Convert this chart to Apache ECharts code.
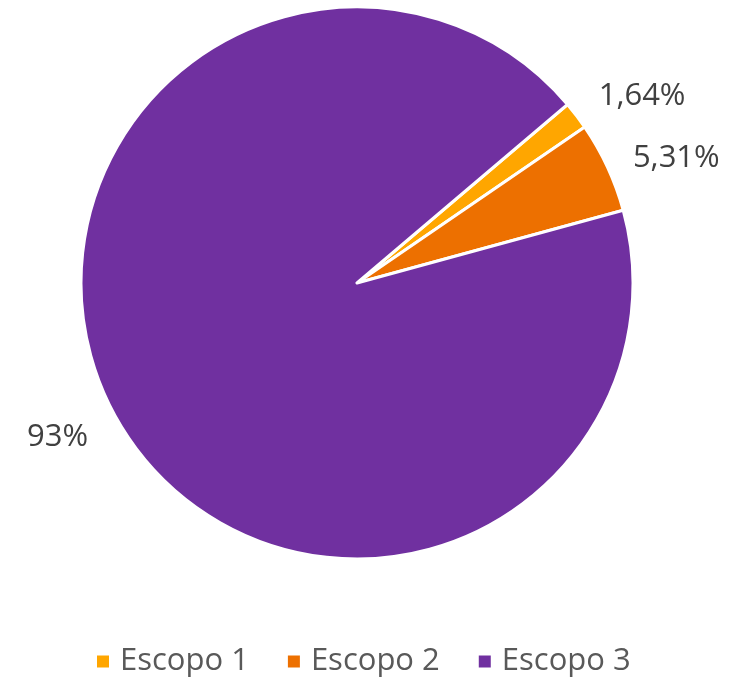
<!DOCTYPE html>
<html>
<head>
<meta charset="utf-8">
<script src="https://cdn.jsdelivr.net/npm/echarts@6/dist/echarts.min.js"></script>
<style>html,body{margin:0;padding:0;background:#fff;}#c{width:746px;height:682px;}</style>
</head>
<body>
<div id="c"></div>
<script>
const categories = ['Escopo 1', 'Escopo 2', 'Escopo 3'];
const values = [1.64, 5.31, 93.05];
const labelTexts = ['1,64%', '5,31%', '93%'];
const colors = ['#FFA600', '#ED7000', '#7030A0'];

const chart = echarts.init(document.getElementById('c'));
const txt = { fontFamily: 'Open Sans', fontSize: 31, color: '#404040' };
chart.setOption({
  animation: false,
  color: colors,
  legend: {
    data: categories,
    bottom: 0,
    left: 90,
    icon: 'rect',
    itemWidth: 14,
    itemHeight: 14,
    itemGap: 37,
    textStyle: { fontFamily: 'Open Sans', fontSize: 31, color: '#595959', padding: [0, 0, 0, 5] }
  },
  series: [{
    type: 'pie',
    center: [357, 283],
    radius: 276,
    startAngle: 40.3,
    clockwise: true,
    data: categories.map((c, i) => ({ name: c, value: values[i] })),
    itemStyle: { borderColor: '#fff', borderWidth: 3 },
    label: {
      show: true,
      position: 'outside',
      formatter: p => '{p' + p.dataIndex + '|' + labelTexts[p.dataIndex] + '}',
      fontFamily: 'Open Sans',
      fontSize: 31,
      color: '#404040',
      distanceToLabelLine: 0,
      rich: {
        p0: Object.assign({ padding: [0, 0, 4, 0] }, txt),
        p1: Object.assign({ padding: [6, 0, 0, 0] }, txt),
        p2: Object.assign({ padding: [24, 0, 0, 0] }, txt)
      }
    },
    labelLine: { show: false, length: 28, length2: 0 },
    emphasis: { disabled: true }
  }]
});
</script>
</body>
</html>
